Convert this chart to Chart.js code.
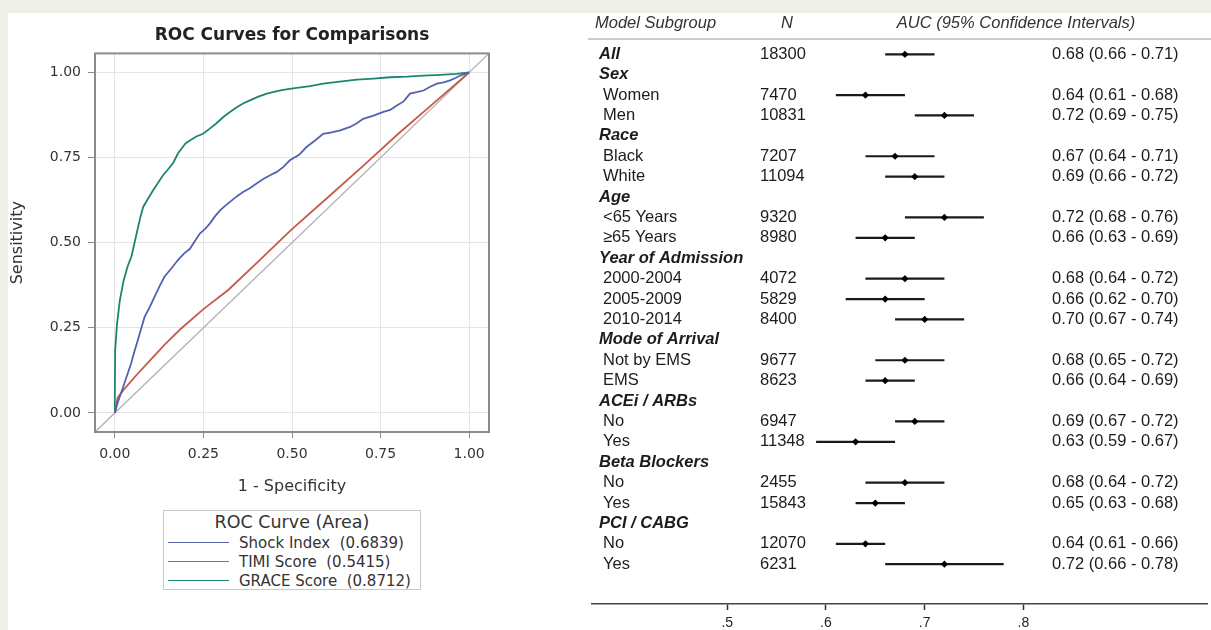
<!DOCTYPE html>
<html>
<head>
<meta charset="utf-8">
<script src="https://cdn.jsdelivr.net/npm/chart.js@4.4.1/dist/chart.umd.min.js"></script>
<style>
  html, body { margin: 0; padding: 0; }
  body { width: 1211px; height: 630px; background: #efefe6; position: relative; overflow: hidden; }
  #panel { position: absolute; left: 8px; top: 13px; right: 0; bottom: 0; background: #fff; }
  #rocWrap { position: absolute; left: 0; top: 0; width: 560px; height: 500px; }
  #forestWrap { position: absolute; left: 588px; top: 0; width: 623px; height: 630px; }
  #rocLegend { position: absolute; left: 163px; top: 510px; width: 256px; height: 78px;
               border: 1px solid #c9c9c9; color: #333; font-family: 'DejaVu Sans', sans-serif; }
  #rocLegend .ttl { text-align: center; font-size: 17.5px; line-height: 21px; padding-top: 1px; }
  #rocLegend .row { display: flex; align-items: center; height: 19px; font-size: 15px; white-space: pre; }
  #rocLegend .swatch { width: 61px; height: 1.5px; margin-left: 4px; margin-right: 10px; }
</style>
</head>
<body>
<div id="panel"></div>
<div id="rocWrap"><canvas id="rocChart"></canvas></div>
<div id="rocLegend"></div>
<div id="forestWrap"><canvas id="forestChart"></canvas></div>
<script>
// ---- ROC curves (1 - specificity, sensitivity) ----
const shockFpr = [0, 0.008, 0.018, 0.027, 0.037, 0.046, 0.055, 0.065, 0.075, 0.084, 0.098, 0.112, 0.126, 0.140,
  0.160, 0.178, 0.195, 0.212, 0.226, 0.240, 0.254, 0.268, 0.283, 0.297, 0.311, 0.325, 0.344, 0.362, 0.381, 0.400,
  0.419, 0.438, 0.457, 0.475, 0.494, 0.520, 0.541, 0.565, 0.588, 0.612, 0.636, 0.664, 0.682, 0.701, 0.730, 0.758,
  0.777, 0.796, 0.815, 0.833, 0.852, 0.871, 0.890, 0.909, 0.928, 0.946, 0.960, 0.975, 1];
const shockTpr = [0, 0.030, 0.060, 0.087, 0.118, 0.146, 0.180, 0.214, 0.250, 0.282, 0.310, 0.341, 0.372, 0.400,
  0.425, 0.449, 0.468, 0.482, 0.505, 0.527, 0.540, 0.556, 0.578, 0.595, 0.608, 0.620, 0.636, 0.649, 0.660, 0.674,
  0.687, 0.698, 0.708, 0.722, 0.742, 0.758, 0.781, 0.800, 0.820, 0.824, 0.830, 0.840, 0.850, 0.864, 0.873, 0.884,
  0.890, 0.903, 0.915, 0.938, 0.942, 0.947, 0.958, 0.967, 0.971, 0.977, 0.983, 0.991, 1];

const timiFpr = [0, 0.008, 0.024, 0.060, 0.100, 0.140, 0.184, 0.250, 0.320, 0.400, 0.500, 0.600, 0.700, 0.800, 0.900, 1];
const timiTpr = [0, 0.045, 0.067, 0.110, 0.155, 0.200, 0.245, 0.305, 0.361, 0.440, 0.540, 0.632, 0.725, 0.820, 0.910, 1];

const graceFpr = [0, 0, 0.001, 0.006, 0.014, 0.025, 0.036, 0.047, 0.061, 0.072, 0.080, 0.094, 0.108, 0.122, 0.136,
  0.150, 0.165, 0.178, 0.188, 0.200, 0.212, 0.230, 0.249, 0.268, 0.287, 0.306, 0.325, 0.344, 0.362, 0.381, 0.405,
  0.429, 0.452, 0.475, 0.513, 0.551, 0.588, 0.635, 0.683, 0.730, 0.777, 0.825, 0.871, 0.918, 0.965, 1];
const graceTpr = [0, 0.070, 0.185, 0.260, 0.330, 0.390, 0.430, 0.460, 0.525, 0.575, 0.605, 0.630, 0.654, 0.676, 0.698,
  0.715, 0.735, 0.762, 0.776, 0.792, 0.800, 0.812, 0.820, 0.835, 0.851, 0.869, 0.884, 0.898, 0.909, 0.918, 0.929,
  0.938, 0.944, 0.949, 0.955, 0.960, 0.967, 0.973, 0.979, 0.982, 0.986, 0.988, 0.991, 0.993, 0.996, 1];

const curveNames = ['Shock Index', 'TIMI Score', 'GRACE Score'];
const curveAreas = [0.6839, 0.5415, 0.8712];
const rocTicks = [0, 0.25, 0.5, 0.75, 1];
const rocRange = [-0.056, 1.056];   // axis range, also the chance diagonal

// ---- forest plot ----
const subgroups = ['All', 'Sex', 'Women', 'Men', 'Race', 'Black', 'White', 'Age', '<65 Years', '\u226565 Years',
  'Year of Admission', '2000-2004', '2005-2009', '2010-2014', 'Mode of Arrival', 'Not by EMS', 'EMS',
  'ACEi / ARBs', 'No', 'Yes', 'Beta Blockers', 'No', 'Yes', 'PCI / CABG', 'No', 'Yes'];
const isGroupHeader = [1, 1, 0, 0, 1, 0, 0, 1, 0, 0, 1, 0, 0, 0, 1, 0, 0, 1, 0, 0, 1, 0, 0, 1, 0, 0];
const nCounts = [18300, null, 7470, 10831, null, 7207, 11094, null, 9320, 8980, null, 4072, 5829, 8400, null,
  9677, 8623, null, 6947, 11348, null, 2455, 15843, null, 12070, 6231];
const aucValues = [0.68, null, 0.64, 0.72, null, 0.67, 0.69, null, 0.72, 0.66, null, 0.68, 0.66, 0.70, null,
  0.68, 0.66, null, 0.69, 0.63, null, 0.68, 0.65, null, 0.64, 0.72];
const ciLow = [0.66, null, 0.61, 0.69, null, 0.64, 0.66, null, 0.68, 0.63, null, 0.64, 0.62, 0.67, null,
  0.65, 0.64, null, 0.67, 0.59, null, 0.64, 0.63, null, 0.61, 0.66];
const ciHigh = [0.71, null, 0.68, 0.75, null, 0.71, 0.72, null, 0.76, 0.69, null, 0.72, 0.70, 0.74, null,
  0.72, 0.69, null, 0.72, 0.67, null, 0.72, 0.68, null, 0.66, 0.78];
const forestTicks = [0.5, 0.6, 0.7, 0.8];
const tableHeaders = ['Model Subgroup', 'N', 'AUC (95% Confidence Intervals)'];

const ROC_COLORS = ['#5361b0', '#c35a4b', '#1c8572'];
const ROC_FONT = "'DejaVu Sans', sans-serif";
const TABLE_FONT = "'Liberation Sans', Arial, sans-serif";

function toPoints(xs, ys) { return xs.map((x, i) => ({ x, y: ys[i] })); }

// box around the plot area, SAS style
const framePlugin = {
  id: 'frame',
  afterDraw(chart) {
    const { ctx, chartArea: a } = chart;
    ctx.save();
    ctx.strokeStyle = '#8c8c8c';
    ctx.lineWidth = 2;
    ctx.strokeRect(a.left, a.top, a.right - a.left, a.bottom - a.top);
    ctx.restore();
  }
};

const rocChart = new Chart(document.getElementById('rocChart'), {
  type: 'scatter',
  data: {
    datasets: [
      { label: curveNames[0], data: toPoints(shockFpr, shockTpr), borderColor: ROC_COLORS[0] },
      { label: curveNames[1], data: toPoints(timiFpr, timiTpr), borderColor: ROC_COLORS[1] },
      { label: curveNames[2], data: toPoints(graceFpr, graceTpr), borderColor: ROC_COLORS[2] },
      { label: 'chance', data: toPoints(rocRange, rocRange), borderColor: '#b4b4b4', borderWidth: 1.4 }
    ].map(d => ({ showLine: true, pointRadius: 0, borderWidth: 1.8, tension: 0, ...d }))
  },
  options: {
    responsive: true,
    maintainAspectRatio: false,
    animation: false,
    layout: { padding: { left: 0, top: 0, right: 71, bottom: 0 } },
    plugins: {
      legend: { display: false },
      tooltip: { enabled: false },
      title: {
        display: true, fullSize: false,
        text: 'ROC Curves for Comparisons',
        color: '#222',
        font: { family: ROC_FONT, size: 17, weight: 'bold' },
        padding: { top: 25, bottom: 8 }
      }
    },
    scales: {
      x: {
        type: 'linear', min: rocRange[0], max: rocRange[1],
        afterBuildTicks(s) { s.ticks = rocTicks.map(v => ({ value: v })); },
        afterFit(s) { s.height = 68; },
        ticks: { callback: v => v.toFixed(2), color: '#333', font: { family: ROC_FONT, size: 14 }, padding: 8, maxRotation: 0 },
        grid: { color: '#e4e4e4', tickColor: '#8c8c8c', tickLength: 6 },
        border: { display: false },
        title: { display: true, text: '1 - Specificity', color: '#333', font: { family: ROC_FONT, size: 16 }, padding: { top: 0, bottom: 4 } }
      },
      y: {
        type: 'linear', min: rocRange[0], max: rocRange[1],
        afterBuildTicks(s) { s.ticks = rocTicks.map(v => ({ value: v })); },
        afterFit(s) { s.width = 95; },
        ticks: { callback: v => v.toFixed(2), color: '#333', font: { family: ROC_FONT, size: 14 }, padding: 7 },
        grid: { color: '#e4e4e4', tickColor: '#8c8c8c', tickLength: 7 },
        border: { display: false },
        title: { display: true, text: 'Sensitivity', color: '#333', font: { family: ROC_FONT, size: 16 }, padding: { top: 8, bottom: 0 } }
      }
    }
  },
  plugins: [framePlugin]
});

// legend box built from the chart's datasets
(function buildLegend() {
  const box = document.getElementById('rocLegend');
  const ttl = document.createElement('div');
  ttl.className = 'ttl';
  ttl.textContent = 'ROC Curve (Area)';
  box.appendChild(ttl);
  rocChart.data.datasets.slice(0, 3).forEach((ds, i) => {
    const row = document.createElement('div');
    row.className = 'row';
    const sw = document.createElement('span');
    sw.className = 'swatch';
    sw.style.background = ds.borderColor;
    const txt = document.createElement('span');
    txt.textContent = ds.label + '  (' + curveAreas[i].toFixed(4) + ')';
    row.appendChild(sw);
    row.appendChild(txt);
    box.appendChild(row);
  });
})();

// ---- forest plot ----
const rows = subgroups.map((_, i) => i).filter(i => aucValues[i] !== null);

const tablePlugin = {
  id: 'forestTable',
  afterDraw(chart) {
    const { ctx, chartArea, scales: { y } } = chart;
    ctx.save();
    ctx.textBaseline = 'middle';
    ctx.fillStyle = '#333';
    ctx.font = 'italic 16.5px ' + TABLE_FONT;
    ctx.textAlign = 'left';
    ctx.fillText(tableHeaders[0], 7, 23);
    ctx.fillText(tableHeaders[1], 193, 23);
    ctx.textAlign = 'center';
    ctx.fillText(tableHeaders[2], 428, 23);

    ctx.strokeStyle = '#cccccc';
    ctx.lineWidth = 2;
    ctx.beginPath();
    ctx.moveTo(0, chartArea.top - 1);
    ctx.lineTo(chart.width, chartArea.top - 1);
    ctx.stroke();

    ctx.textAlign = 'left';
    ctx.fillStyle = '#1c1c1c';
    subgroups.forEach((name, i) => {
      const py = y.getPixelForValue(i);
      if (isGroupHeader[i]) {
        ctx.font = 'italic bold 16.5px ' + TABLE_FONT;
        ctx.fillText(name, 11, py);
      } else {
        ctx.font = '16.5px ' + TABLE_FONT;
        ctx.fillText(name, 15, py);
      }
      ctx.font = '16.5px ' + TABLE_FONT;
      if (nCounts[i] !== null) ctx.fillText(String(nCounts[i]), 172, py);
      if (aucValues[i] !== null) {
        const s = aucValues[i].toFixed(2) + ' (' + ciLow[i].toFixed(2) + ' - ' + ciHigh[i].toFixed(2) + ')';
        ctx.fillText(s, 464, py);
      }
    });
    ctx.restore();
  }
};

const ciDatasets = rows.map(i => ({
  data: [{ x: ciLow[i], y: i }, { x: ciHigh[i], y: i }],
  showLine: true, pointRadius: 0, borderColor: '#1a1a1a', borderWidth: 2.2
}));

new Chart(document.getElementById('forestChart'), {
  type: 'scatter',
  data: {
    datasets: [
      {
        data: rows.map(i => ({ x: aucValues[i], y: i })),
        pointStyle: 'rectRot', pointRadius: 3.6,
        backgroundColor: '#000', borderColor: '#000', borderWidth: 0
      },
      ...ciDatasets
    ]
  },
  options: {
    responsive: true,
    maintainAspectRatio: false,
    animation: false,
    layout: { padding: { left: 0, top: 40, right: 0, bottom: 0 } },
    plugins: { legend: { display: false }, tooltip: { enabled: false } },
    scales: {
      x: {
        type: 'linear', min: 0.363, max: 0.986,
        afterBuildTicks(s) { s.ticks = forestTicks.map(v => ({ value: v })); },
        afterFit(s) { s.height = 26; },
        ticks: { callback: v => String(v).replace(/^0/, ''), color: '#222', font: { family: TABLE_FONT, size: 14 }, padding: 5, maxRotation: 0 },
        grid: { drawOnChartArea: false, tickLength: 6, tickColor: '#333', tickWidth: 1.5 },
        border: { color: '#444', width: 1.5 }
      },
      y: { type: 'linear', reverse: true, min: -0.7, max: 26.95, display: false }
    }
  },
  plugins: [tablePlugin]
});
</script>
</body>
</html>
